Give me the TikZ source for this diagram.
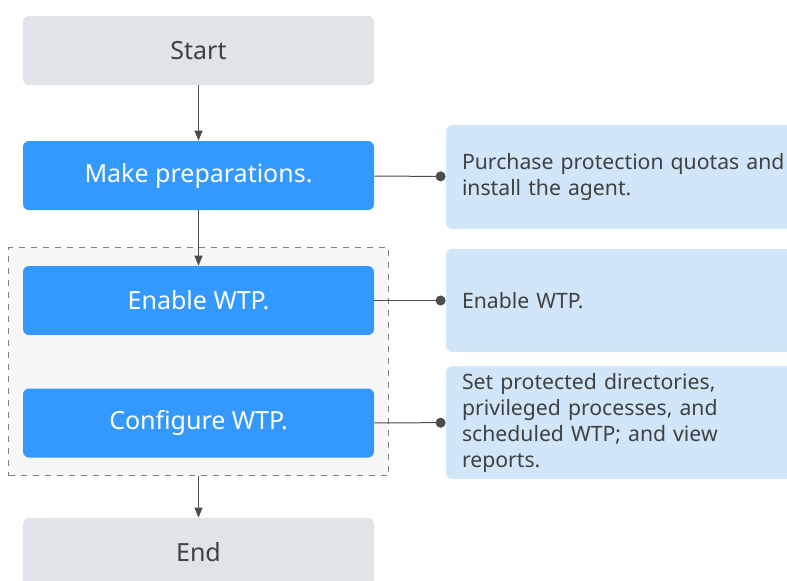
\documentclass[tikz,border=0pt]{standalone}
\usepackage{fontspec}
\setmainfont{Noto Sans}
\definecolor{hBlue}{HTML}{3399FF}
\definecolor{hGrey}{HTML}{E0E3E7}
\definecolor{hPaleBlue}{HTML}{D2E6FA}
\definecolor{hPaleBg}{HTML}{F7F7F7}
\definecolor{hDark}{HTML}{4D4D4D}
\definecolor{hText}{HTML}{404040}
\usetikzlibrary{positioning,arrows.meta,fit,backgrounds}

\begin{document}
\begin{tikzpicture}[x=0.5pt, y=-0.5pt, font=\fontsize{12.5}{13}\selectfont,
  step box/.style={rounded corners=3pt, minimum width=175.5pt, minimum height=34.5pt, inner sep=0pt},
  grey box/.style={step box, fill=hGrey, text=hText},
  blue box/.style={step box, fill=hBlue, text=white},
  note box/.style={rounded corners=3pt, fill=hPaleBlue, text=hText, minimum width=180pt, text width=164pt, align=left, inner xsep=8pt, font=\fontsize{10.6}{13}\selectfont},
  flow/.style={draw=hDark, line width=0.6pt, -{Triangle[length=5pt, width=4pt]}},
  link/.style={draw=hDark, line width=0.5pt, -{Circle[length=5pt]}}]
\clip (0,0) rectangle (787,580);
\node[grey box] (start) at (198.5,50.5) {Start};
\node[blue box] (prep) at (198.5,175.5) {Make preparations.};
\node[blue box] (enable) at (198.5,300.5) {Enable WTP.};
\node[blue box] (config) at (198.5,423) {Configure WTP.};
\node[grey box] (end) at (198.5,552.5) {End};
\begin{scope}[on background layer]
\node[draw=gray, dashed, fill=hPaleBg, line width=0.5pt, inner xsep=7pt, inner ysep=9pt, fit=(enable)(config)] (group) {};
\end{scope}
\node[note box, minimum height=52pt] (det1) at (626,177) {Purchase protection quotas and\\install the agent.};
\node[note box, minimum height=51.5pt] (det2) at (626,300.5) {Enable WTP.};
\node[note box, minimum height=52.5pt] (det3) at (626,422.5) {Set protected directories,\\privileged processes, and\\scheduled WTP; and view\\reports.};
\draw[flow] (start)--(prep);
\draw[flow] (prep)--(enable);
\draw[flow] (group)--(end);
\draw[link] (prep)--(det1);
\draw[link] (enable)--(det2);
\draw[link] (config)--(det3);
\end{tikzpicture}
\end{document}
